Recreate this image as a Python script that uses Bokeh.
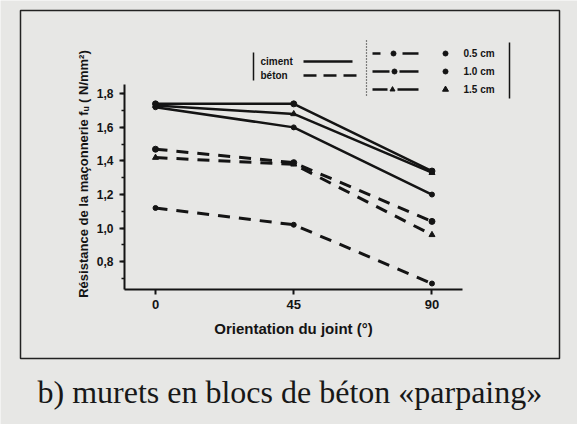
import math
from bokeh.plotting import figure
from bokeh.models import Range1d, LinearAxis, FixedTicker
from bokeh.core.properties import value
from bokeh.embed import file_html
from bokeh.resources import INLINE

# ---------------- data ----------------
angles = [0, 45, 90]
ciment_05 = [1.74, 1.74, 1.34]
ciment_10 = [1.72, 1.60, 1.20]
ciment_15 = [1.73, 1.68, 1.33]
beton_05 = [1.47, 1.39, 1.04]
beton_10 = [1.12, 1.02, 0.67]
beton_15 = [1.42, 1.38, 0.96]

x_ticks = [0, 45, 90]
y_ticks = [0.8, 1.0, 1.2, 1.4, 1.6, 1.8]
y_tick_labels = ["0,8", "1,0", "1,2", "1,4", "1,6", "1,8"]
mortar_labels = ["ciment", "béton"]
thickness_labels = ["0.5 cm", "1.0 cm", "1.5 cm"]
x_title = "Orientation du joint (°)"
y_title = "Résistance de la maçonnerie fᵤ ( N/mm²)"
caption = "b) murets en blocs de béton «parpaing»"

# ---------------- geometry (page pixels) ----------------
W, H = 577, 424
PX0, PY0 = 0, 0
x_zero_px, x_per_deg = 155.0, 3.072
y_18_px, y_per_unit = 93.3, 167.9


def deg_at(px):
    return (px - x_zero_px) / x_per_deg


def val_at(py):
    return 1.8 - (py - y_18_px) / y_per_unit


x_range = Range1d(deg_at(PX0), deg_at(PX0 + W))
y_range = Range1d(val_at(PY0 + H), val_at(PY0))

INK = "#141414"
BG = "#e7e7e5"
SANS = value("Liberation Sans")

p = figure(width=W, height=H, x_range=x_range, y_range=y_range,
           output_backend="svg", toolbar_location=None, min_border=0,
           x_axis_type=None, y_axis_type=None)
p.background_fill_color = BG
p.border_fill_color = BG
p.outline_line_color = None
p.extra_x_ranges = {"px": Range1d(PX0, PX0 + W)}
p.extra_y_ranges = {"py": Range1d(PY0 + H, PY0)}

x_axis_val = val_at(289)
y_axis_deg = deg_at(124)

# ---------------- axes ----------------
minor = [round(0.7 + 0.1 * i, 1) for i in range(12)]
yax = LinearAxis(fixed_location=y_axis_deg, bounds=(x_axis_val, val_at(84)),
                 ticker=FixedTicker(ticks=y_ticks, minor_ticks=minor))
yax.major_label_overrides = {t: l for t, l in zip(y_ticks, y_tick_labels)}
xax = LinearAxis(fixed_location=x_axis_val, bounds=(y_axis_deg, deg_at(462)),
                 ticker=FixedTicker(ticks=x_ticks))
for ax in (xax, yax):
    ax.axis_line_color = INK
    ax.axis_line_width = 2
    ax.major_tick_line_color = INK
    ax.major_tick_line_width = 2
    ax.major_tick_in = 0
    ax.major_tick_out = 5
    ax.minor_tick_line_color = INK
    ax.minor_tick_line_width = 1.5
    ax.minor_tick_in = 0
    ax.minor_tick_out = 3
    ax.major_label_text_font = "Liberation Sans"
    ax.major_label_text_font_style = "bold"
    ax.major_label_text_color = INK
xax.major_label_text_font_size = "13px"
xax.major_label_standoff = 5
yax.major_label_text_font_size = "12px"
yax.major_label_standoff = 6
p.add_layout(yax, "left")
p.add_layout(xax, "below")

# ---------------- data lines ----------------
for ys in (ciment_05, ciment_15, ciment_10):
    p.line(angles, ys, line_color=INK, line_width=2.5)
for ys in (beton_05, beton_15, beton_10):
    p.line(angles, ys, line_color=INK, line_width=3, line_dash="12 9")

for ys in (ciment_05, beton_05):
    p.scatter(angles, ys, marker="circle", size=6, color=INK)
for ys in (ciment_10, beton_10):
    p.scatter(angles, ys, marker="circle", size=5, color=INK)
for ys in (ciment_15, beton_15):
    p.scatter(angles, ys, marker="triangle", size=6, color=INK)

# ---------------- page elements (page pixel coords) ----------------
kw = dict(x_range_name="px", y_range_name="py")

# outer frame
p.quad(left=[20], right=[559], top=[10], bottom=[358], fill_color=None,
       line_color="#222222", line_width=1.5, **kw)

# legend box 1: mortar type
p.segment(x0=[253], y0=[52], x1=[253], y1=[80], line_color=INK, line_width=1.5, **kw)
p.text(x=[260, 260], y=[61, 75], text=mortar_labels, text_font=SANS,
       text_font_style="bold", text_font_size="10px", text_baseline="middle",
       text_color=INK, **kw)
p.segment(x0=[303], y0=[61], x1=[352], y1=[61], line_color=INK, line_width=2.5, **kw)
p.segment(x0=[303], y0=[75], x1=[358], y1=[75], line_color=INK, line_width=2.5,
          line_dash="13 7", **kw)

# legend box 2: joint thickness
p.segment(x0=[366], y0=[40], x1=[366], y1=[95], line_color=INK, line_width=1.2,
          line_dash="1 2", **kw)
p.segment(x0=[509], y0=[42], x1=[509], y1=[98], line_color=INK, line_width=1.5, **kw)
rows = [53, 71, 89]
p.multi_line(xs=[[372, 380], [402, 418], [372, 389], [399, 418], [372, 387], [397, 418]],
             ys=[[rows[0]] * 2, [rows[0]] * 2, [rows[1]] * 2, [rows[1]] * 2,
                 [rows[2]] * 2, [rows[2]] * 2],
             line_color=INK, line_width=2.5, **kw)
p.scatter(x=[393, 394], y=[rows[0], rows[1]], marker="circle", size=5, color=INK, **kw)
p.scatter(x=[392], y=[rows[2]], marker="triangle", size=5, color=INK, **kw)
p.scatter(x=[445, 445], y=[rows[0], rows[1]], marker="circle", size=5, color=INK, **kw)
p.scatter(x=[445], y=[rows[2]], marker="triangle", size=6, color=INK, **kw)
p.text(x=[463] * 3, y=rows, text=thickness_labels, text_font=SANS,
       text_font_style="bold", text_font_size="10px", text_baseline="middle",
       text_color=INK, **kw)

# axis titles
p.text(x=[83], y=[173.5], text=[y_title], angle=math.pi / 2, text_font=SANS,
       text_font_style="bold", text_font_size="13px", text_align="center",
       text_baseline="middle", text_color=INK, **kw)
p.text(x=[293], y=[328], text=[x_title], text_font=SANS, text_font_style="bold",
       text_font_size="15px", text_align="center", text_baseline="middle",
       text_color=INK, **kw)

# caption
p.text(x=[37], y=[391], text=[caption], text_font=value("Liberation Serif"),
       text_font_size="32px", text_align="left", text_baseline="alphabetic",
       text_color="#181818", **kw)

open("out.html", "w").write(file_html(p, INLINE))
